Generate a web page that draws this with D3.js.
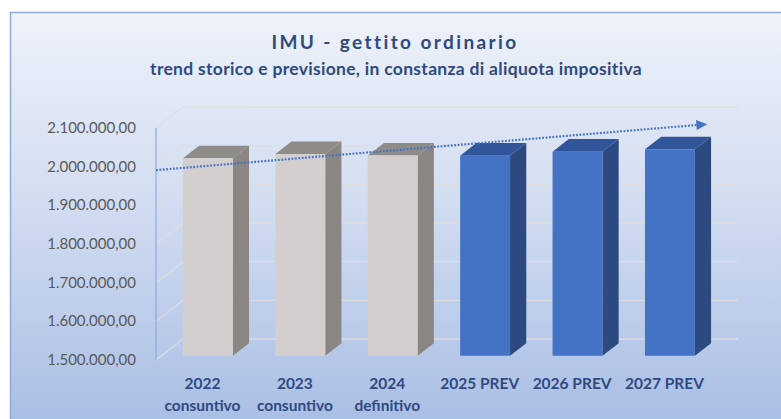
<!DOCTYPE html>
<html>
<head>
<meta charset="utf-8">
<script src="https://cdn.jsdelivr.net/npm/d3@7"></script>
<style>
  body { margin: 0; background: #fff; }
  svg { display: block; }
</style>
</head>
<body>
<div id="chart"></div>
<script>
// data
var years = ["2022", "2023", "2024", "2025 PREV", "2026 PREV", "2027 PREV"];
var notes = ["consuntivo", "consuntivo", "definitivo", "", "", ""];
var gettito = [2010700, 2021900, 2018000, 2017500, 2027800, 2034000];
var yTicks = [1500000, 1600000, 1700000, 1800000, 1900000, 2000000, 2100000];
// hand drawn trend arrow: [category position, value]
var trendArrow = [[-0.5, 1991000], [5.46, 2110000]];

var width = 781, height = 419;
var depthX = 27, depthY = -21;   // 3d depth of the plot box
var barFront = 0.2, barBack = 0.8;

var it = d3.formatLocale({decimal: ",", thousands: ".", grouping: [3], currency: ["€", ""]});
var fmt = it.format(",.2f");

var svg = d3.select("#chart").append("svg")
    .attr("width", width)
    .attr("height", height);

var defs = svg.append("defs");
var grad = defs.append("linearGradient")
    .attr("id", "bg")
    .attr("x1", 0).attr("y1", 0).attr("x2", 0).attr("y2", 1);
grad.append("stop").attr("offset", "0%").attr("stop-color", "#eef2fa");
grad.append("stop").attr("offset", "45%").attr("stop-color", "#d2ddf1");
grad.append("stop").attr("offset", "100%").attr("stop-color", "#a8bde4");

svg.append("rect")
    .attr("x", 10.5).attr("y", 12.5)
    .attr("width", width + 10).attr("height", height)
    .attr("fill", "url(#bg)")
    .attr("stroke", "#8eaadb")
    .attr("stroke-width", 1.5);

var y = d3.scaleLinear()
    .domain([1500000, 2100000])
    .range([360, 128]);

var x = d3.scaleBand()
    .domain(years)
    .range([156, 711])
    .paddingInner(0.46)
    .paddingOuter(0.233);

var xPos = d3.scaleLinear()
    .domain([-0.5, years.length - 0.5])
    .range([156, 711]);

// project a front-plane point back by a depth fraction
function proj(px, v, f) {
    return [px + f * depthX, y(v) + f * depthY];
}

var x0 = 156, x1 = 711;

// grid: back wall lines + left wall diagonals
var grid = svg.append("g");
yTicks.forEach(function (t) {
    var a = proj(x0, t, 0), b = proj(x0, t, 1), c = proj(x1, t, 1);
    grid.append("path")
        .attr("d", "M" + a + "L" + b + "L" + c)
        .attr("fill", "none")
        .attr("stroke", "#dedede")
        .attr("stroke-opacity", 0.85)
        .attr("stroke-width", 1.3);
});

// vertical axis line
svg.append("line")
    .attr("x1", x0).attr("x2", x0)
    .attr("y1", y(1500000)).attr("y2", y(2100000))
    .attr("stroke", "#8eaadb")
    .attr("stroke-width", 1.2);

// y tick labels
svg.append("g").selectAll("text")
    .data(yTicks)
    .enter()
    .append("text")
    .attr("x", 136)
    .attr("y", function (d) { return y(d) + 5; })
    .attr("text-anchor", "end")
    .attr("font-family", "Lato, 'Open Sans', sans-serif")
    .attr("font-size", 15)
    .attr("fill", "#595959")
    .text(function (d) { return fmt(d); });

// bars
var bars = svg.append("g").selectAll("g")
    .data(gettito)
    .enter()
    .append("g");

function isPrev(i) { return years[i].indexOf("PREV") >= 0; }

bars.append("path")  // side
    .attr("d", function (d, i) {
        var r = x(years[i]) + x.bandwidth();
        var p = [proj(r, 1500000, barFront), proj(r, 1500000, barBack),
                 proj(r, d, barBack), proj(r, d, barFront)];
        return "M" + p.join("L") + "Z";
    })
    .attr("fill", function (d, i) { return isPrev(i) ? "#2c4a80" : "#8a8683"; });

bars.append("path")  // top
    .attr("d", function (d, i) {
        var l = x(years[i]), r = l + x.bandwidth();
        var p = [proj(l, d, barFront), proj(l, d, barBack),
                 proj(r, d, barBack), proj(r, d, barFront)];
        return "M" + p.join("L") + "Z";
    })
    .attr("fill", function (d, i) { return isPrev(i) ? "#30559a" : "#8f8b89"; });

bars.append("path")  // front
    .attr("d", function (d, i) {
        var l = x(years[i]), r = l + x.bandwidth();
        var p = [proj(l, 1500000, barFront), proj(r, 1500000, barFront),
                 proj(r, d, barFront), proj(l, d, barFront)];
        return "M" + p.join("L") + "Z";
    })
    .attr("fill", function (d, i) { return isPrev(i) ? "#4472c4" : "#d3cfcf"; });

// trend arrow (dotted)
var ta = trendArrow.map(function (p) { return [xPos(p[0]), y(p[1])]; });
var ang = Math.atan2(ta[1][1] - ta[0][1], ta[1][0] - ta[0][0]);
var tip = ta[1];
var back = [tip[0] - 11 * Math.cos(ang), tip[1] - 11 * Math.sin(ang)];
svg.append("line")
    .attr("x1", ta[0][0]).attr("y1", ta[0][1])
    .attr("x2", back[0]).attr("y2", back[1])
    .attr("stroke", "#4472c4")
    .attr("stroke-width", 2.2)
    .attr("stroke-dasharray", "1.8,1.6");
svg.append("path")
    .attr("d", function () {
        var n = ang + Math.PI / 2;
        var p1 = [back[0] + 5 * Math.cos(n), back[1] + 5 * Math.sin(n)];
        var p2 = [back[0] - 5 * Math.cos(n), back[1] - 5 * Math.sin(n)];
        return "M" + tip + "L" + p1 + "L" + p2 + "Z";
    })
    .attr("fill", "#4472c4");

// category labels
var xl = svg.append("g").selectAll("text")
    .data(years)
    .enter()
    .append("text")
    .attr("x", function (d) { return x(d) + x.bandwidth() / 2; })
    .attr("y", 389)
    .attr("text-anchor", "middle")
    .attr("font-family", "Lato, 'Open Sans', sans-serif")
    .attr("font-weight", "bold")
    .attr("font-size", 15.5)
    .attr("fill", "#2f4a80");
xl.append("tspan").text(function (d) { return d; });
xl.append("tspan")
    .attr("x", function (d) { return x(d) + x.bandwidth() / 2; })
    .attr("dy", 22)
    .text(function (d, i) { return notes[i]; });

// titles
svg.append("text")
    .attr("x", 395).attr("y", 49)
    .attr("text-anchor", "middle")
    .attr("font-family", "Lato, 'Open Sans', sans-serif")
    .attr("font-weight", "bold")
    .attr("font-size", 19)
    .attr("letter-spacing", 2.4)
    .attr("fill", "#2f4a80")
    .text("IMU - gettito ordinario");

svg.append("text")
    .attr("x", 396).attr("y", 75)
    .attr("text-anchor", "middle")
    .attr("font-family", "Lato, 'Open Sans', sans-serif")
    .attr("font-weight", "bold")
    .attr("font-size", 17.5)
    .attr("letter-spacing", 0.3)
    .attr("fill", "#2f4a80")
    .text("trend storico e previsione, in constanza di aliquota impositiva");
</script>
</body>
</html>
